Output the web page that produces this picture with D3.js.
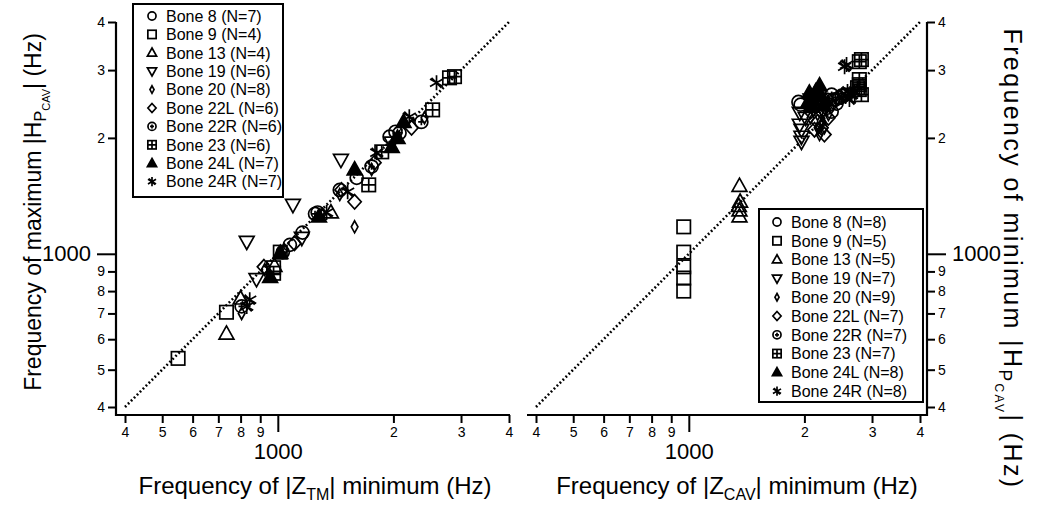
<!DOCTYPE html>
<html><head><meta charset="utf-8">
<script src="https://cdn.jsdelivr.net/npm/d3@7"></script>
<style>
html,body{margin:0;padding:0;background:#fff;}
text{font-family:"Liberation Sans",Arial,Helvetica,sans-serif;fill:#000;}
</style></head>
<body><svg id="chart" width="1050" height="512"></svg>
<script>
// ---------- data ----------
const bones = ["Bone 8","Bone 9","Bone 13","Bone 19","Bone 20","Bone 22L","Bone 22R","Bone 23","Bone 24L","Bone 24R"];
const countsLeft  = [7,4,4,6,8,6,6,6,7,7];
const countsRight = [8,5,5,7,9,7,7,7,8,8];
const tickValues = [400,500,600,700,800,900,1000,2000,3000,4000];
const tickLabels = ["4","5","6","7","8","9","1000","2","3","4"];
const diagonal = [400,4000];

// left panel: [ |Z_TM| minimum (Hz), maximum |H_PCAV| (Hz) ]
const left_bone8  = [[1075,1055],[1160,1135],[1270,1280],[1450,1465],[1605,1575],[1955,2015],[2025,2075]];
const left_bone9  = [[550,535],[735,705],[975,920],[1015,1010]];
const left_bone13 = [[735,620],[800,765],[1375,1280],[980,930]];
const left_bone19 = [[830,1075],[880,860],[1095,1340],[1460,1755],[1980,1945],[1155,1100]];
const left_bone20 = [[1585,1175],[805,700],[925,910],[1040,1025],[1450,1425],[1755,1655],[2015,1980],[2410,2255]];
const left_bone22L= [[920,925],[1585,1365],[1465,1465],[1785,1725],[2230,2125],[1105,1065]];
const left_bone22R= [[805,730],[1755,1685],[2365,2200],[1250,1270],[1030,1010],[2075,2060]];
const left_bone23 = [[2800,2865],[2885,2885],[2530,2365],[1865,1840],[1725,1510],[975,890]];
const left_bone24L= [[955,870],[1015,1005],[1280,1250],[1585,1655],[1980,1895],[2050,2000],[2125,2200]];
const left_bone24R= [[830,730],[845,760],[1340,1280],[1520,1450],[1810,1830],[2200,2270],[2590,2780]];

// right panel: [ |Z_CAV| minimum (Hz), minimum |H_PCAV| (Hz) ]
const right_bone8  = [[1930,2480],[1955,2440],[2295,2395],[2355,2340],[2410,2515],[2500,2575],[2165,2455],[2230,2515]];
const right_bone9  = [[970,1175],[970,1010],[970,925],[970,865],[970,800]];
const right_bone13 = [[1355,1500],[1360,1365],[1350,1330],[1355,1295],[1355,1250]];
const right_bone19 = [[1945,2325],[1945,2165],[1965,2100],[1965,2015],[1965,1955],[2075,2515],[2015,2255]];
const right_bone20 = [[2165,2300],[2215,2365],[2230,2200],[2255,2125],[2165,2125],[2075,2255],[2310,2300],[2125,2440],[2190,2040]];
const right_bone22L= [[2165,2200],[2215,2125],[2215,2340],[2255,2040],[2310,2255],[2125,2100],[2075,2340]];
const right_bone22R= [[2355,2590],[2380,2515],[2425,2455],[2325,2440],[2465,2545],[2545,2590],[2285,2515]];
const right_bone23 = [[2780,3155],[2815,3195],[2780,2835],[2780,2750],[2780,2670],[2815,2590],[2750,2700]];
const right_bone24L= [[2060,2620],[2100,2515],[2190,2735],[2215,2560],[2100,2410],[2140,2640],[2245,2440],[2040,2465]];
const right_bone24R= [[2575,3100],[2545,3060],[2590,2640],[2655,2590],[2560,2560],[2620,2515],[2500,2545],[2700,2640]];

const leftSeries  = [left_bone8,left_bone9,left_bone13,left_bone19,left_bone20,left_bone22L,left_bone22R,left_bone23,left_bone24L,left_bone24R];
const rightSeries = [right_bone8,right_bone9,right_bone13,right_bone19,right_bone20,right_bone22L,right_bone22R,right_bone23,right_bone24L,right_bone24R];

// ---------- drawing ----------
const markerTypes = ["circle","square","triUp","triDown","smallDiamond","diamond","circlePlus","squarePlus","triFilled","asterisk"];
const svg = d3.select("#chart");

const y = d3.scaleLog().domain([400,4000]).range([407,22]);
const xL = d3.scaleLog().domain([400,4000]).range([125,509]);
const xR = d3.scaleLog().domain([400,4000]).range([536,920]);

function marker(g, type, s){
  const sw = 1.7/s;
  const a = g.append("g").attr("transform", `scale(${s})`);
  const st = el => el.attr("fill","none").attr("stroke","#000").attr("stroke-width",sw);
  switch(type){
    case "circle": st(a.append("circle").attr("r",6.5)); break;
    case "square": st(a.append("rect").attr("x",-6.7).attr("y",-6.7).attr("width",13.4).attr("height",13.4)); break;
    case "triUp": st(a.append("path").attr("d","M0,-7.8L7.4,5.4L-7.4,5.4Z")); break;
    case "triDown": st(a.append("path").attr("d","M0,7.8L7.4,-5.4L-7.4,-5.4Z")); break;
    case "smallDiamond": st(a.append("path").attr("d","M0,-6L3.3,0L0,6L-3.3,0Z")); break;
    case "diamond": st(a.append("path").attr("d","M0,-7.2L6.6,0L0,7.2L-6.6,0Z")); break;
    case "circlePlus": st(a.append("circle").attr("r",6.5)); st(a.append("path").attr("d","M-3.2,0H3.2M0,-3.2V3.2")); break;
    case "squarePlus": st(a.append("rect").attr("x",-6.7).attr("y",-6.7).attr("width",13.4).attr("height",13.4)); st(a.append("path").attr("d","M-6.7,0H6.7M0,-6.7V6.7")); break;
    case "triFilled": a.append("path").attr("d","M0,-7.8L7.4,5.4L-7.4,5.4Z").attr("fill","#000").attr("stroke","#000").attr("stroke-width",sw); break;
    case "asterisk": st(a.append("path").attr("d","M0,-7.5V7.5M-6.5,-3.75L6.5,3.75M-6.5,3.75L6.5,-3.75M-5,-5L5,5")); break;
  }
}

function panel(x, series, counts, side, legendBox, legendRows){
  const g = svg.append("g");
  // diagonal
  g.append("line")
    .attr("x1", x(diagonal[0])).attr("y1", y(diagonal[0]))
    .attr("x2", x(diagonal[1])).attr("y2", y(diagonal[1]))
    .attr("stroke","#000").attr("stroke-width",2.6).attr("stroke-dasharray","1.8,2.4");
  // points
  series.forEach((pts,i)=>{
    pts.forEach(p=>{
      const m = g.append("g").attr("transform",`translate(${x(p[0])},${y(p[1])})`);
      marker(m, markerTypes[i], 1);
    });
  });
  // x axis
  const x0 = x(400)-9, x1 = x(4000)+1;
  const yAxisX = side==="left" ? x(400)-9 : x(4000)+7;
  const axisY = y(400)+8;
  const xa = g.append("g").attr("transform",`translate(0,${axisY})`)
    .call(d3.axisBottom(x).tickValues(tickValues).tickSize(8).tickPadding(4)
      .tickFormat((d,i)=>tickLabels[i]));
  xa.select(".domain").remove();
  xa.selectAll("line").attr("stroke-width",2);
  xa.selectAll("text").attr("font-size",14);
  xa.selectAll(".tick").filter(d=>d===1000).each(function(){
    const t = d3.select(this);
    t.select("line").attr("y2",17);
    t.select("text").attr("font-size",22).attr("y",28);
  });
  g.append("line").attr("x1",side==="left"?yAxisX-1:x0).attr("x2",side==="left"?x1:yAxisX+1)
    .attr("y1",axisY).attr("y2",axisY).attr("stroke","#000").attr("stroke-width",2.2);
  // y axis
  const axisFn = side==="left" ? d3.axisLeft(y) : d3.axisRight(y);
  const ya = g.append("g").attr("transform",`translate(${yAxisX},0)`)
    .call(axisFn.tickValues(tickValues).tickSize(8).tickPadding(3)
      .tickFormat((d,i)=>tickLabels[i]));
  ya.select(".domain").remove();
  ya.selectAll("line").attr("stroke-width",2);
  ya.selectAll("text").attr("font-size",14);
  ya.selectAll(".tick").filter(d=>d===1000).each(function(){
    const t = d3.select(this);
    t.select("line").attr("x2", side==="left" ? -19 : 19);
    t.select("text").attr("font-size",22).attr("x", side==="left" ? -25 : 25);
  });
  g.append("line").attr("x1",yAxisX).attr("x2",yAxisX)
    .attr("y1",y(4000)).attr("y2",axisY+1).attr("stroke","#000").attr("stroke-width",2.2);

  // legend
  const lg = g.append("g");
  lg.append("rect").attr("x",legendBox[0]).attr("y",legendBox[1]).attr("width",legendBox[2]).attr("height",legendBox[3])
    .attr("fill","#fff").attr("stroke","#000").attr("stroke-width",2);
  bones.forEach((b,i)=>{
    const ry = legendRows[1] + i*legendRows[2];
    const m = lg.append("g").attr("transform",`translate(${legendRows[0]},${ry})`);
    marker(m, markerTypes[i], 0.62);
    lg.append("text").attr("x",legendRows[0]+14).attr("y",ry).attr("dy","0.36em")
      .attr("font-size",16).text(`${b} (N=${counts[i]})`);
  });
}

panel(xL, leftSeries, countsLeft, "left", [133,4,150,193], [152,16,18.4]);
panel(xR, rightSeries, countsRight, "right", [759,209,164,193], [777,222,18.8]);

// axis titles
function titleX(cx, sub){
  const t = svg.append("text").attr("x",cx).attr("y",494).attr("text-anchor","middle").attr("font-size",24);
  t.append("tspan").text("Frequency of |Z");
  t.append("tspan").attr("font-size",16).attr("dy",6).text(sub);
  t.append("tspan").attr("dy",-6).text("| minimum (Hz)");
}
titleX(315,"TM");
titleX(737,"CAV");

function titleY(cx, cy, rot, word, fs, ls){
  const t = svg.append("text").attr("transform",`translate(${cx},${cy}) rotate(${rot})`)
    .attr("text-anchor","middle").attr("font-size",fs).attr("letter-spacing",ls);
  t.append("tspan").text(`Frequency of ${word} |H`);
  t.append("tspan").attr("font-size",fs*0.7).attr("dy",5).text("P");
  t.append("tspan").attr("font-size",fs*0.48).attr("dy",4).text("CAV");
  t.append("tspan").attr("dy",-9).text("| (Hz)");
}
titleY(41, 212, -90, "maximum", 23, 0);
titleY(1004, 259, 90, "minimum", 25, 2.4);
</script></body></html>
